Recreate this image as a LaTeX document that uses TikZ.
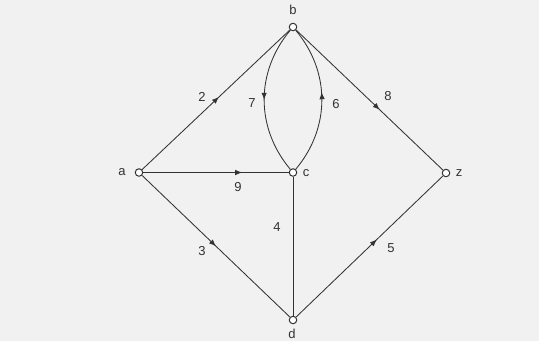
\documentclass[tikz,border=0pt]{standalone}
\usepackage{fontspec}
\setmainfont{Liberation Sans}
\usetikzlibrary{arrows.meta,decorations.markings}
\definecolor{ink}{HTML}{333333}
\definecolor{paper}{HTML}{F1F1F1}
\tikzset{
  vert/.style={circle,draw=ink,fill=white,line width=1pt,inner sep=0pt,minimum size=7.5pt},
  edge/.style={draw=ink,line width=0.85pt},
  midarrow/.style={postaction={decorate},decoration={markings,
     mark=at position #1 with {\arrow{Latex[length=7pt,width=5.5pt]}}}},
  lbl/.style={text=ink,font=\fontsize{13}{13}\selectfont,inner sep=0pt}
}
\begin{document}
\begin{tikzpicture}[x=1pt,y=-1pt]
\fill[paper] (0,0) rectangle (539,341);
\useasboundingbox (0,0) rectangle (539,341);
\node[vert] (a) at (139,172.5) {};
\node[vert] (b) at (293,27) {};
\node[vert] (c) at (293,172.5) {};
\node[vert] (d) at (293,320) {};
\node[vert] (z) at (446,173) {};
\node[lbl] (la) at (122,172) {a};
\node[lbl] (lb) at (293,10) {b};
\node[lbl] (lc) at (306,173) {c};
\node[lbl] (ld) at (292,334) {d};
\node[lbl] (lz) at (459,173) {z};
\path[edge,midarrow=0.52] (a) -- (b);
\path[edge,midarrow=0.68] (a) -- (c);
\path[edge,midarrow=0.5] (a) -- (d);
\path[edge,midarrow=0.5] (b) to[bend right=40] (c);
\path[edge,midarrow=0.55] (c) to[bend right=40] (b);
\path[edge,midarrow=0.57] (b) -- (z);
\path[edge,midarrow=0.55] (d) -- (z);
\path[edge] (c) -- (d);
\node[lbl] (n2) at (202,97) {2};
\node[lbl] (n9) at (238,187) {9};
\node[lbl] (n3) at (202,251) {3};
\node[lbl] (n7) at (252,103) {7};
\node[lbl] (n6) at (336,104) {6};
\node[lbl] (n8) at (388,96) {8};
\node[lbl] (n5) at (391,248) {5};
\node[lbl] (n4) at (277,227) {4};
\end{tikzpicture}
\end{document}
